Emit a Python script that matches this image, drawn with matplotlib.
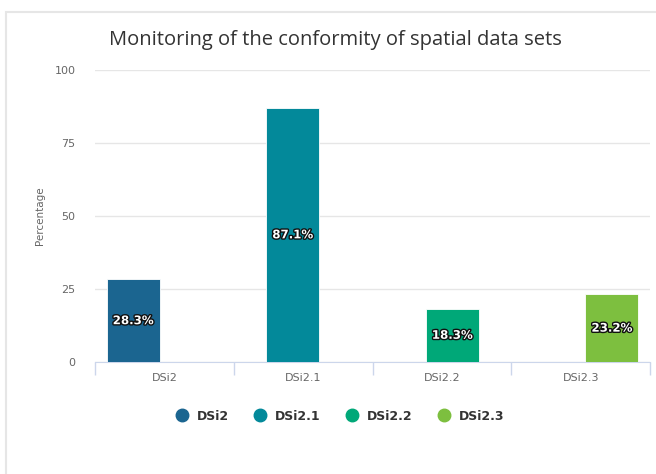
import matplotlib
matplotlib.use("Agg")
from matplotlib import pyplot as plt
from matplotlib.lines import Line2D
from matplotlib.patches import Rectangle
import matplotlib.patheffects as pe
import numpy as np

categories = ["DSi2", "DSi2.1", "DSi2.2", "DSi2.3"]
series_names = ["DSi2", "DSi2.1", "DSi2.2", "DSi2.3"]
values = [28.3, 87.1, 18.3, 23.2]
colors = ["#1b6590", "#03899a", "#00a878", "#7dbf3f"]
yticks = [0, 25, 50, 75, 100]

W, H = 656, 474
fig = plt.figure(figsize=(W / 100, H / 100), dpi=100)
ax = fig.add_axes([95 / W, 1 - 362 / H, 555 / W, (362 - 70) / H])

# outer chart border
fig.patches.append(Rectangle((6 / W, -0.05), 1.2, 1 - 12 / H + 0.05, transform=fig.transFigure,
                             facecolor="none", edgecolor="#e6e6e6", linewidth=1.5))

slot = 0.15
bar_w = 0.38
for i, (name, val) in enumerate(zip(series_names, values)):
    x = i + (i - 1.5) * slot
    ax.bar(x, val, width=bar_w, color=colors[i], edgecolor="#ffffff", linewidth=0.6, zorder=3)
    ax.text(x, val / 2, f"{val:.1f}%", ha="center", va="center", color="white",
            fontsize=8.5, fontweight="bold", family="DejaVu Sans", zorder=4,
            path_effects=[pe.withStroke(linewidth=2.0, foreground="#111111")])

ax.set_xlim(-0.5, 3.5)
ax.set_ylim(0, 100)
ax.set_yticks(yticks)
ax.yaxis.grid(True, color="#e6e6e6", linewidth=1)
ax.set_axisbelow(True)
ax.tick_params(axis="y", length=0, pad=14, labelsize=8, labelcolor="#666666")

ax.set_xticks(np.arange(-0.5, 4, 1))
ax.set_xticklabels([])
ax.set_xticks(np.arange(len(categories)), minor=True)
ax.set_xticklabels(categories, minor=True)
ax.tick_params(axis="x", which="major", length=9, color="#ccd6eb", width=1, direction="out")
ax.tick_params(axis="x", which="minor", length=0, pad=8, labelsize=8, labelcolor="#666666")

for s in ["top", "right", "left"]:
    ax.spines[s].set_visible(False)
ax.spines["bottom"].set_color("#ccd6eb")

ax.set_ylabel("Percentage", fontsize=7.5, color="#666666", labelpad=7)

fig.text(335 / W, 1 - 40 / H, "Monitoring of the conformity of spatial data sets",
         ha="center", va="center", fontsize=14.5, color="#333333", family="Open Sans")

handles = [Line2D([], [], marker="o", linestyle="none", markersize=9, color=c,
                  markeredgecolor=c) for c in colors]
leg = fig.legend(handles, series_names, loc="center", bbox_to_anchor=(337 / W, 1 - 416 / H),
                 ncol=4, frameon=False, handletextpad=0.2, columnspacing=1.5,
                 prop={"size": 9, "weight": "bold"})
for t in leg.get_texts():
    t.set_color("#333333")

fig.savefig("out.png", dpi=100, facecolor="white")
